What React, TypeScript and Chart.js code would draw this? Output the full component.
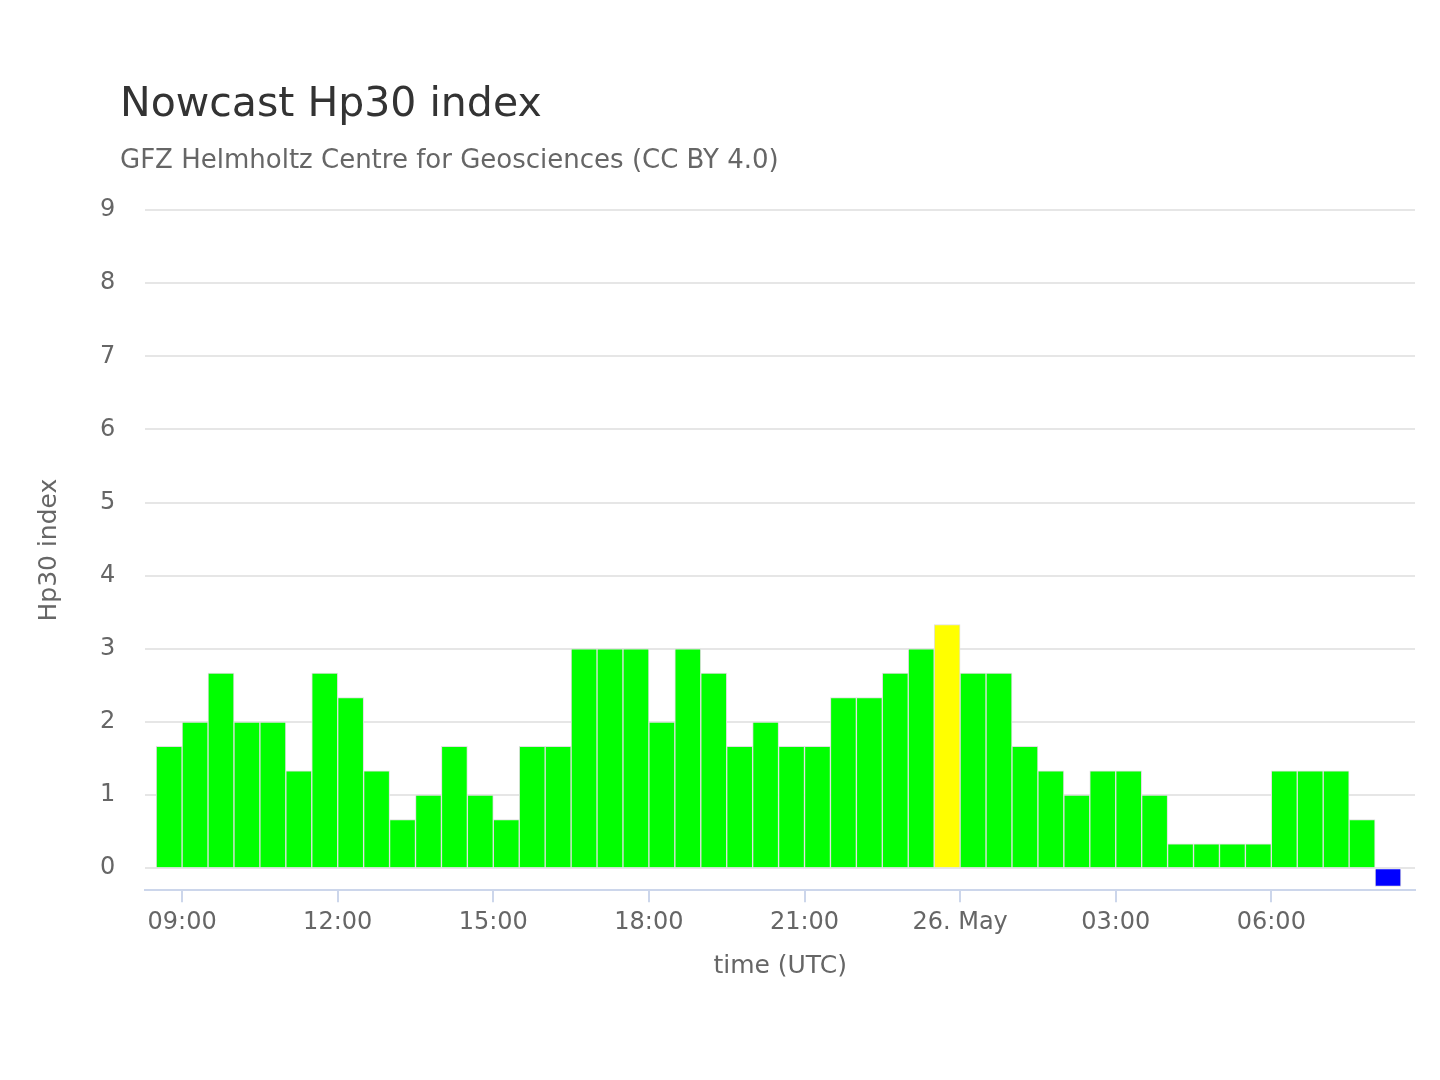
import React, { useEffect, useRef } from "react";
import { Chart, registerables } from "chart.js";
Chart.register(...registerables);

const hours = [8.75,9.25,9.75,10.25,10.75,11.25,11.75,12.25,12.75,13.25,13.75,14.25,14.75,15.25,15.75,16.25,16.75,17.25,17.75,18.25,18.75,19.25,19.75,20.25,20.75,21.25,21.75,22.25,22.75,23.25,23.75,24.25,24.75,25.25,25.75,26.25,26.75,27.25,27.75,28.25,28.75,29.25,29.75,30.25,30.75,31.25,31.75,32.25];
const values = [1.667,2,2.667,2,2,1.333,2.667,2.333,1.333,0.667,1,1.667,1,0.667,1.667,1.667,3,3,3,2,3,2.667,1.667,2,1.667,1.667,2.333,2.333,2.667,3,3.333,2.667,2.667,1.667,1.333,1,1.333,1.333,1,0.333,0.333,0.333,0.333,1.333,1.333,1.333,0.667,-0.25];
const xTicks = [9,12,15,18,21,24,27,30];
const yTicks = [0,1,2,3,4,5,6,7,8,9];
const FONT = "'DejaVu Sans', sans-serif";

function colorFor(v: number) {
  if (v < 0) return "#0000ff";
  if (v > 3.2) return "#ffff00";
  return "#00ff00";
}

export default function App() {
  const ref = useRef<HTMLCanvasElement>(null);
  useEffect(() => {
    const titles = {
      id: "titles",
      afterDraw(c: any) {
        const ctx = c.ctx;
        ctx.save();
        ctx.textBaseline = "alphabetic";
        ctx.fillStyle = "#333333";
        ctx.font = `41px ${FONT}`;
        ctx.fillText("Nowcast Hp30 index", 120, 116);
        ctx.fillStyle = "#666666";
        ctx.font = `26px ${FONT}`;
        ctx.fillText("GFZ Helmholtz Centre for Geosciences (CC BY 4.0)", 120, 168);
        ctx.restore();
      },
    };
    const chart = new Chart(ref.current!, {
      type: "bar",
      data: {
        datasets: [{
          data: hours.map((h, i) => ({ x: h, y: values[i] })),
          backgroundColor: values.map(colorFor),
          borderColor: "#e0e0e0",
          borderWidth: 1,
          barPercentage: 1,
          categoryPercentage: 1,
        }],
      },
      options: {
        animation: false,
        responsive: false,
        layout: { padding: { top: 210, bottom: 95, right: 25, left: 30 } },
        plugins: { legend: { display: false }, tooltip: { enabled: false } },
        scales: {
          x: {
            type: "linear",
            offset: false,
            min: 8.29,
            max: 32.77,
            afterBuildTicks: (s: any) => { s.ticks = xTicks.map((v) => ({ value: v })); },
            ticks: {
              color: "#666666",
              font: { family: FONT, size: 24 },
              padding: 6,
              autoSkip: false,
              maxRotation: 0,
              callback: (v: any) => (v === 24 ? "26. May" : String(v % 24).padStart(2, "0") + ":00"),
            },
            grid: { offset: false, drawOnChartArea: false, drawTicks: true, tickLength: 12, color: "#ccd6eb", lineWidth: 2 },
            border: { color: "#ccd6eb", width: 2 },
            title: { display: true, text: "time (UTC)", color: "#666666", font: { family: FONT, size: 25 }, padding: { top: 8 } },
          },
          y: {
            min: -0.3,
            max: 9,
            afterBuildTicks: (s: any) => { s.ticks = yTicks.map((v) => ({ value: v })); },
            ticks: { color: "#666666", font: { family: FONT, size: 24 }, padding: 30 },
            grid: { color: "#e6e6e6", lineWidth: 2, drawTicks: false },
            border: { display: false },
            title: { display: true, text: "Hp30 index", color: "#666666", font: { family: FONT, size: 25 }, padding: { bottom: 6 } },
          },
        },
      },
      plugins: [titles],
    } as any);
    return () => chart.destroy();
  }, []);
  return (
    <div style={{ position: "absolute", left: 0, top: 0, width: 1440, height: 1080, background: "#fff" }}>
      <canvas ref={ref} width={1440} height={1080} style={{ width: 1440, height: 1080 }} />
    </div>
  );
}
